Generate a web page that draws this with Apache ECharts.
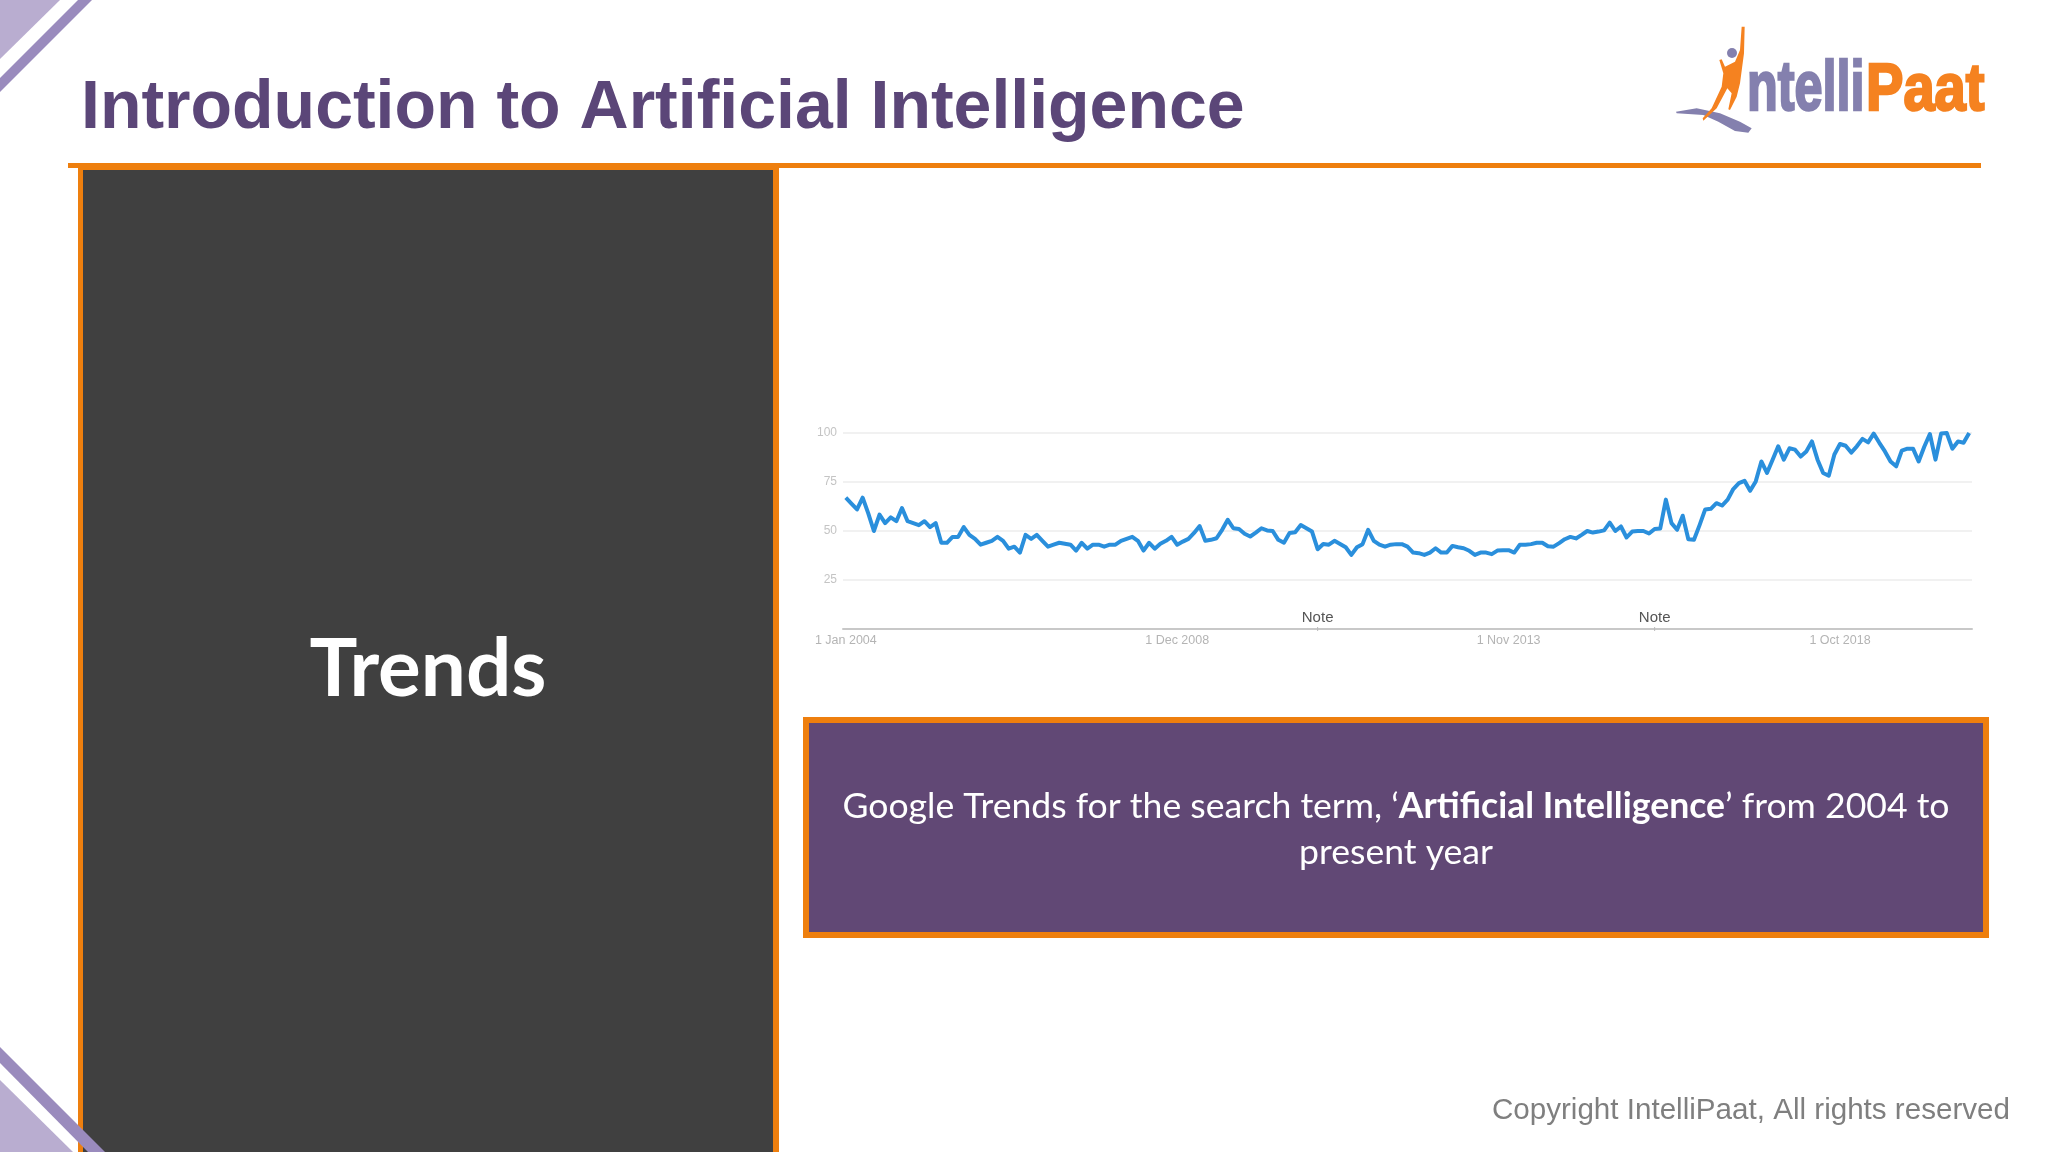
<!DOCTYPE html>
<html>
<head>
<meta charset="utf-8">
<style>
  html, body { margin: 0; padding: 0; background: #fff; }
  #main { width: 2048px; height: 1152px; }
</style>
<script src="https://cdn.jsdelivr.net/npm/echarts@6/dist/echarts.min.js"></script>
</head>
<body>
<div id="main"></div>
<script>
// interest per month, Jan 2004 onward
var interest2004 = [67, 64, 61, 67, 59, 50, 58.4, 54, 57, 55, 61.7, 55];
var interest2005 = [54, 53, 55, 52, 54, 44, 44, 47, 47, 52, 48, 46];
var interest2006 = [43, 44, 45, 47, 45, 41, 42, 39, 48, 46, 48, 45];
var interest2007 = [42, 43, 44, 43.5, 43, 40, 44, 41, 43, 43, 42, 43];
var interest2008 = [43, 45, 46, 47, 45, 40, 44, 41, 43.5, 45, 47, 43];
var interest2009 = [44.6, 46, 49, 52.5, 45, 45.5, 46.3, 50.6, 55.7, 51.4, 51, 48.6];
var interest2010 = [47.2, 49.2, 51.4, 50.3, 50, 45.5, 44, 49, 49.4, 53, 51.4, 49.7];
var interest2011 = [40.7, 43.4, 43, 45, 43.4, 41.7, 37.8, 41.7, 43.3, 50.6, 45, 43];
var interest2012 = [42, 43, 43.3, 43.3, 42, 39, 38.7, 37.8, 39, 41.2, 39, 39];
var interest2013 = [42.4, 41.7, 41.2, 39.9, 37.8, 39, 39, 38.2, 40, 40.2, 40.2, 39];
var interest2014 = [43, 43, 43.3, 44, 44, 42.2, 42, 43.8, 45.8, 47, 46.2, 48];
var interest2015 = [50, 49.2, 49.7, 50.3, 54.3, 50, 52.3, 46.7, 49.7, 50, 50, 48.7];
var interest2016 = [51, 51.3, 66, 54, 50.6, 57.8, 45.8, 45.5, 53, 61, 61.3, 64.2];
var interest2017 = [63, 66, 71.4, 74.4, 75.6, 70.5, 75.3, 85.5, 79.6, 86.4, 93.2, 86.4];
var interest2018 = [92.2, 91.5, 88, 90.6, 95.7, 86.4, 79.6, 78.2, 89, 94.4, 93.5, 90];
var interest2019 = [93.2, 97, 95.2, 99.7, 95, 90.6, 85.5, 83, 91, 92, 92, 85.5];
var interest2020 = [93, 99.5, 86.4, 99.7, 100, 92, 95.7, 95, 100];

var interest = [].concat(interest2004, interest2005, interest2006, interest2007, interest2008,
  interest2009, interest2010, interest2011, interest2012, interest2013, interest2014,
  interest2015, interest2016, interest2017, interest2018, interest2019, interest2020);

var monthNames = ['Jan', 'Feb', 'Mar', 'Apr', 'May', 'Jun', 'Jul', 'Aug', 'Sep', 'Oct', 'Nov', 'Dec'];
var categories = interest.map(function (v, i) {
  return '1 ' + monthNames[i % 12] + ' ' + (2004 + Math.floor(i / 12));
});
var noteDates = ['1 Jan 2011', '1 Jan 2016'];

var orange = '#ee7f0e';
var title = 'Introduction to Artificial Intelligence';
var footer = 'Copyright IntelliPaat, All rights reserved';

// logo shapes were traced on a 3x crop, so bring them back to page pixels
function logoPts(pts) {
  return pts.map(function (p) { return [1640 + p[0] / 3, p[1] / 3]; });
}
var swoosh = logoPts([[108, 335], [170, 325], [240, 340], [300, 365], [335, 385], [325, 398], [285, 393], [235, 365], [190, 345], [110, 340]]);
var figure = logoPts([[305, 80], [314, 80], [312, 160], [300, 250], [290, 290], [270, 330], [265, 328], [275, 280], [262, 265], [230, 325], [190, 362], [188, 355], [215, 325], [245, 260], [250, 220], [238, 180], [245, 178], [255, 200], [285, 185], [300, 150]]);

function poly(points, fill, z) {
  return { type: 'polygon', z: z || 1, shape: { points: points }, style: { fill: fill } };
}
function box(x, y, w, h, fill, z) {
  return { type: 'rect', z: z || 1, shape: { x: x, y: y, width: w, height: h }, style: { fill: fill } };
}
function label(x, y, text, font, fill, align, baseline) {
  return { type: 'text', z: 5, x: x, y: y, style: { text: text, font: font, fill: fill, align: align || 'left', verticalAlign: baseline || 'top' } };
}
function logoWord(x, y, text, size, fill, sx) {
  return {
    type: 'text', z: 5, x: x, y: y, scaleX: sx,
    style: { text: text, font: 'bold ' + size + 'px "Liberation Sans"', fill: fill, stroke: fill, lineWidth: 2.5 }
  };
}

var chart = echarts.init(document.getElementById('main'));

chart.setOption({
  backgroundColor: '#ffffff',
  animation: false,
  grid: { left: 843, right: 76, top: 433, height: 196 },
  xAxis: {
    type: 'category',
    data: categories,
    axisLine: { lineStyle: { color: '#c8c8c8', width: 2 } },
    axisTick: { show: false },
    axisLabel: {
      interval: 58,
      color: '#b4b4b4',
      fontFamily: 'Liberation Sans',
      fontSize: 12.5,
      margin: 5
    }
  },
  yAxis: {
    type: 'value',
    min: 0,
    max: 100,
    interval: 25,
    axisLine: { show: false },
    axisTick: { show: false },
    splitLine: { lineStyle: { color: '#ececec', width: 1.5 } },
    axisLabel: {
      color: '#c4c4c4',
      fontFamily: 'Liberation Sans',
      fontSize: 12,
      margin: 6,
      formatter: function (v) { return v === 0 ? '' : v; }
    }
  },
  series: [{
    type: 'line',
    data: interest,
    showSymbol: false,
    lineStyle: { color: '#2a8fdc', width: 4, join: 'round' },
    markPoint: {
      symbol: 'rect',
      symbolSize: [1, 4],
      itemStyle: { color: '#bbbbbb' },
      label: {
        show: true,
        position: 'top',
        distance: 2,
        color: '#555555',
        fontFamily: 'Liberation Sans',
        fontSize: 15,
        formatter: 'Note'
      },
      data: noteDates.map(function (d) { return { coord: [d, 0] }; })
    }
  }],
  graphic: { elements: [
    // corner decoration
    poly([[0, 0], [60, 0], [0, 59]], '#b9add0'),
    poly([[78, 0], [92, 0], [0, 92], [0, 78]], '#9a8bbd'),
    poly([[0, 1080], [73, 1152], [0, 1152]], '#b9add0'),
    // left panel
    box(78, 163, 701, 989, orange),
    box(83, 170, 690, 982, '#404040'),
    poly([[0, 1047], [105, 1152], [88, 1152], [0, 1063]], '#9a8bbd', 2),
    // header rule
    box(68, 163, 1913, 5, orange),
    label(81, 75.5, title, 'bold 68px "Liberation Sans"', '#5b4678'),
    label(428, 670, 'Trends', 'bold 80px Lato', '#ffffff', 'center', 'middle'),
    // caption box
    box(803, 717, 1186, 221, orange),
    box(809, 723, 1174, 209, '#614875'),
    {
      type: 'text', z: 5, x: 1396, y: 830,
      style: {
        text: 'Google Trends for the search term, \u2018{b|Artificial Intelligence}\u2019 from 2004 to\npresent year',
        font: '35.6px Lato',
        fill: '#ffffff',
        align: 'center',
        verticalAlign: 'middle',
        lineHeight: 46,
        rich: {
          b: { font: 'bold 35.6px Lato', fill: '#ffffff', lineHeight: 46 }
        }
      }
    },
    label(2010, 1096, footer, '29.6px "Liberation Sans"', '#7f7f7f', 'right'),
    // logo
    poly(swoosh, '#8480ae'),
    poly(figure, '#f58220'),
    { type: 'circle', z: 2, shape: { cx: 1732, cy: 53, r: 5 }, style: { fill: '#8480ae' } },
    logoWord(1747, 55.6, 'ntelli', 70, '#8480ae', 0.72),
    logoWord(1866, 58.7, 'Paat', 66, '#f58220', 0.85)
  ] }
});
</script>
</body>
</html>
